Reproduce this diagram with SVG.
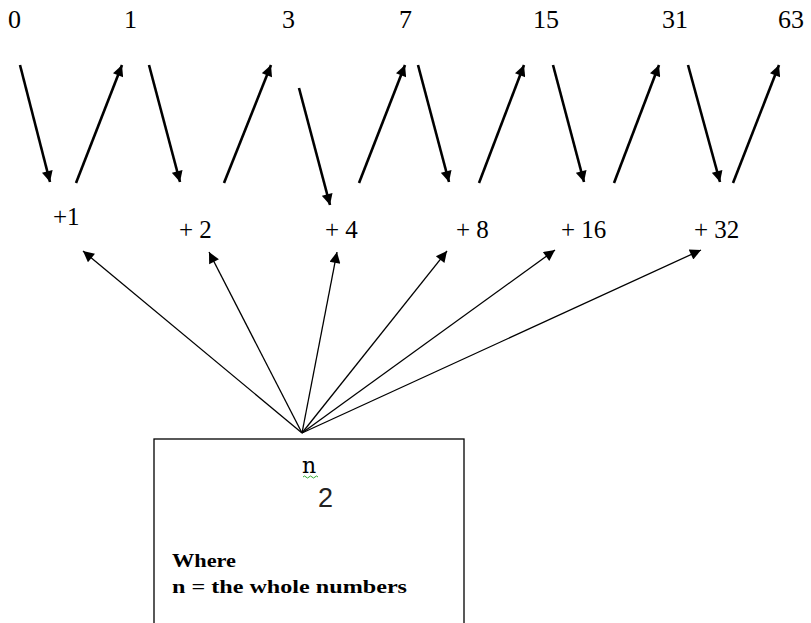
<svg xmlns="http://www.w3.org/2000/svg" width="811" height="623" viewBox="0 0 811 623">
<style>
.num{font-family:"Liberation Serif","DejaVu Serif",serif;font-size:26px;fill:#000}
.lbl{font-family:"Liberation Serif","DejaVu Serif",serif;font-size:25px;fill:#000}
.thick{stroke:#000;stroke-width:2.6;fill:none;marker-end:url(#hb)}
.thin{stroke:#000;stroke-width:1.3;fill:none;marker-end:url(#hs)}
.bold{font-family:"Liberation Serif","DejaVu Serif",serif;font-size:19px;font-weight:bold;fill:#000}
</style>
<defs>
<marker id="hb" viewBox="0 0 10 10" refX="10" refY="5" markerUnits="userSpaceOnUse" markerWidth="13" markerHeight="11" orient="auto">
<path d="M0,0 L10,5 L0,10 z" fill="#000"/>
</marker>
<marker id="hs" viewBox="0 0 10 10" refX="10" refY="5" markerUnits="userSpaceOnUse" markerWidth="14" markerHeight="11" orient="auto">
<path d="M0,0 L10,5 L0,10 z" fill="#000"/>
</marker>
</defs>
<rect width="811" height="623" fill="#fff"/>
<g id="numbers">
<text class="num" x="8" y="28">0</text>
<text class="num" x="124" y="28">1</text>
<text class="num" x="282" y="28">3</text>
<text class="num" x="399" y="28">7</text>
<text class="num" x="533" y="28">15</text>
<text class="num" x="662" y="28">31</text>
<text class="num" x="778" y="28">63</text>
</g>
<g id="increments">
<text class="lbl" x="53" y="225">+1</text>
<text class="lbl" x="179" y="238">+ 2</text>
<text class="lbl" x="325" y="238">+ 4</text>
<text class="lbl" x="456" y="238">+ 8</text>
<text class="lbl" x="561" y="238">+ 16</text>
<text class="lbl" x="694" y="238">+ 32</text>
</g>
<g id="formula-box">
<rect x="154" y="439" width="310" height="200" fill="none" stroke="#000" stroke-width="1.3"/>
<text x="302" y="473" style="font-family:'DejaVu Serif','Liberation Serif',serif;font-size:22px;fill:#000">n</text>
<path d="M303,477 q1.5,-2 3,0 t3,0 t3,0 t3,0 t3,0" fill="none" stroke="#3a3" stroke-width="1"/>
<text x="318" y="507" style="font-family:'Liberation Sans','DejaVu Sans',sans-serif;font-size:27px;fill:#222">2</text>
<text class="bold" x="172" y="567" textLength="64" lengthAdjust="spacingAndGlyphs">Where</text>
<text class="bold" x="172" y="593" textLength="235" lengthAdjust="spacingAndGlyphs">n = the whole  numbers</text>
</g>
<g id="connectors">
<line class="thick" x1="20" y1="65" x2="50" y2="182"/>
<line class="thick" x1="76" y1="183" x2="122" y2="65"/>
<line class="thick" x1="149" y1="65" x2="180" y2="182"/>
<line class="thick" x1="224" y1="183" x2="271" y2="65"/>
<line class="thick" x1="299" y1="88" x2="330" y2="205"/>
<line class="thick" x1="359" y1="183" x2="405" y2="65"/>
<line class="thick" x1="418" y1="65" x2="449" y2="182"/>
<line class="thick" x1="479" y1="183" x2="524" y2="65"/>
<line class="thick" x1="553" y1="65" x2="584" y2="182"/>
<line class="thick" x1="614" y1="183" x2="659" y2="65"/>
<line class="thick" x1="688" y1="65" x2="720" y2="182"/>
<line class="thick" x1="733" y1="183" x2="779" y2="65"/>
<line class="thin" x1="302" y1="433" x2="83" y2="251"/>
<line class="thin" x1="302" y1="433" x2="209" y2="252"/>
<line class="thin" x1="302" y1="433" x2="337" y2="252"/>
<line class="thin" x1="302" y1="433" x2="447" y2="251"/>
<line class="thin" x1="302" y1="433" x2="555" y2="250"/>
<line class="thin" x1="302" y1="433" x2="701" y2="250"/>
</g>
</svg>
